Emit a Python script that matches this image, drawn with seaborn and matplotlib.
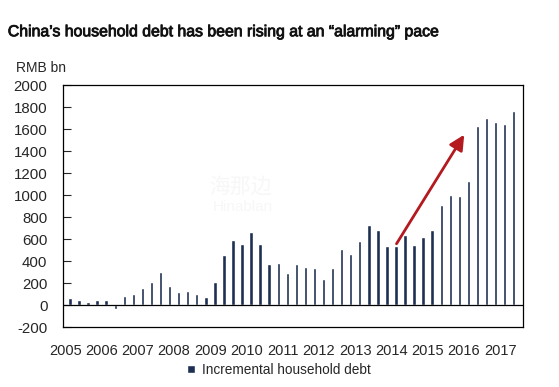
import numpy as np
import pandas as pd
import matplotlib
matplotlib.use("Agg")
import matplotlib.pyplot as plt
import matplotlib.patheffects as pe
import seaborn as sns

# quarterly incremental household debt, RMB bn (2005Q1 - 2017Q2)
years = [str(y) for y in range(2005, 2018)]
quarters = [f"{y}Q{q}" for y in range(2005, 2018) for q in range(1, 5)][:50]
debt = [70, 45, 30, 45, 48, -30, 85, 106, 158, 212,
        303, 176, 121, 130, 103, 79, 212, 452, 594, 552,
        661, 552, 375, 388, 291, 376, 352, 339, 239, 339,
        515, 470, 588, 733, 679, 539, 539, 639, 551, 621,
        688, 915, 1000, 988, 1124, 1627, 1700, 1663, 1645, 1763]
y_ticks = list(range(-200, 2001, 200))

df = pd.DataFrame({"quarter": quarters, "debt": debt})

sns.set_style("white")
plt.rcParams["font.family"] = ["Liberation Sans Narrow", "Liberation Sans", "DejaVu Sans"]

fig = plt.figure(figsize=(5.59, 3.87), dpi=100)
ax = fig.add_axes([0.1122, 0.1543, 0.8229, 0.626])

sns.barplot(data=df, x="quarter", y="debt", color="#1d2f52", width=0.38,
            saturation=1, ax=ax, label="Incremental household debt")

ax.axhline(0, color="black", lw=0.9, zorder=1)
ax.set_xlim(-0.8, 50.0)
ax.set_ylim(-200, 2000)
ax.set_yticks(y_ticks)
ax.set_yticklabels([str(v) for v in y_ticks], fontsize=10.8)
ax.set_xticks([-0.5 + 4 * i for i in range(len(years))])
ax.set_xticklabels(years, fontsize=10.5)
ax.tick_params(axis="x", length=0, pad=12)
ax.tick_params(axis="y", direction="in", length=6, width=0.8, left=True, pad=11)
ax.set_xlabel("")
ax.set_ylabel("")
for s in ax.spines.values():
    s.set_color("black")
    s.set_linewidth(0.9)

# red arrow
ax.annotate("", xy=(43.7, 1570), xytext=(35.9, 537),
            arrowprops=dict(arrowstyle="-|>,head_length=0.9,head_width=0.45",
                            color="#b3191f", lw=2))

# faint watermark
fig.text(0.43, 0.517, "海那边", fontsize=15, color="#f7f7f7",
         family=["Noto Sans CJK SC"], ha="center", va="center")
fig.text(0.435, 0.465, "Hinablan", fontsize=11, color="#f7f7f7",
         ha="center", va="center")

leg = ax.legend(loc="center", bbox_to_anchor=(0.47, -0.175), frameon=False,
                fontsize=9.8, handlelength=0.6, handleheight=0.6, handletextpad=0.5)

title = fig.text(0.014, 0.918,
                 "China\u2019s household debt has been rising at an \u201calarming\u201d pace",
                 fontsize=11.4, ha="left", va="center", color="#111111")
title.set_path_effects([pe.withStroke(linewidth=0.6, foreground="#111111")])
fig.text(0.029, 0.823, "RMB bn", fontsize=10, ha="left", va="center")

fig.savefig("out.png", dpi=100)
